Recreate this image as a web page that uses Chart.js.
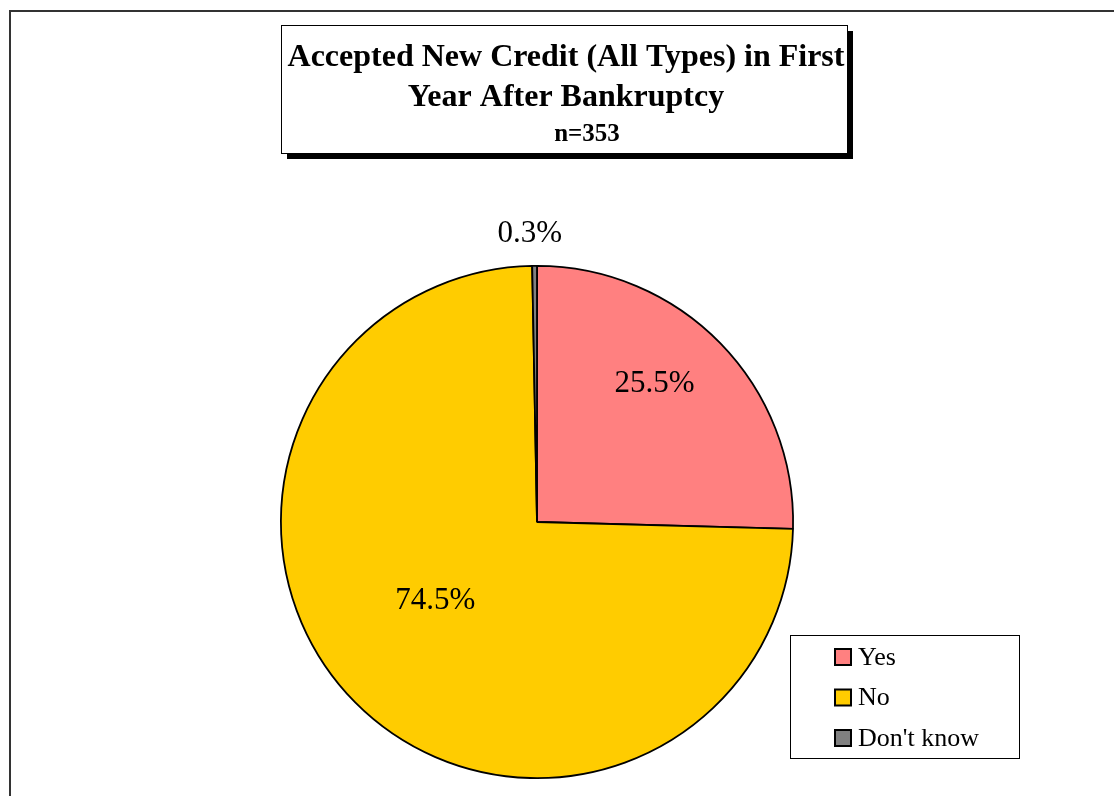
<!DOCTYPE html>
<html>
<head>
<meta charset="utf-8">
<script src="https://cdn.jsdelivr.net/npm/chart.js@4/dist/chart.umd.min.js"></script>
<style>
  html, body { margin: 0; padding: 0; background: #fff; }
  #wrap { width: 1114px; height: 796px; position: relative; }
</style>
</head>
<body>
<div id="wrap"><canvas id="c" width="1114" height="796"></canvas></div>
<script>
// Survey answers and their shares (percent of respondents)
const categories = ['Yes', 'No', "Don't know"];
const shares = [25.5, 74.5, 0.3];
const sliceColors = ['#FF8080', '#FFCC00', '#808080'];
const titleLines = ['Accepted New Credit (All Types) in First', 'Year After Bankruptcy'];
const subtitle = 'n=353';

const SERIF = '"Liberation Serif", "Times New Roman", Times, serif';

// Outer frame and boxed title with drop shadow
const framePlugin = {
  id: 'frame',
  beforeDraw(chart) {
    const ctx = chart.ctx;
    ctx.save();
    ctx.fillStyle = '#fff';
    ctx.fillRect(0, 0, chart.width, chart.height);
    ctx.strokeStyle = '#333';
    ctx.lineWidth = 2;
    ctx.beginPath();
    ctx.moveTo(10, chart.height + 5);
    ctx.lineTo(10, 11);
    ctx.lineTo(chart.width + 5, 11);
    ctx.stroke();
    ctx.restore();
  },
  afterDraw(chart) {
    const ctx = chart.ctx;
    ctx.save();
    const bx = 281, by = 25, bw = 566, bh = 128;
    ctx.fillStyle = '#000';
    ctx.fillRect(bx + 6, by + 6, bw, bh);
    ctx.fillStyle = '#fff';
    ctx.fillRect(bx, by, bw, bh);
    ctx.strokeStyle = '#000';
    ctx.lineWidth = 1;
    ctx.strokeRect(bx + 0.5, by + 0.5, bw, bh);
    ctx.fillStyle = '#000';
    ctx.textAlign = 'center';
    ctx.textBaseline = 'alphabetic';
    ctx.font = 'bold 32px ' + SERIF;
    ctx.fillText(titleLines[0], 566, 66);
    ctx.fillText(titleLines[1], 566, 106);
    ctx.font = 'bold 25px ' + SERIF;
    ctx.fillText(subtitle, 587, 141);
    ctx.restore();
  }
};

// Percentage labels: distance from centre (fraction of radius) and a small angular nudge
const labelRadius = [0.707, 0.502, 1.125];
const labelNudgeDeg = [-5.3, 7, -0.9];
const sliceLabelPlugin = {
  id: 'sliceLabels',
  afterDatasetsDraw(chart) {
    const ctx = chart.ctx;
    const meta = chart.getDatasetMeta(0);
    ctx.save();
    ctx.fillStyle = '#000';
    ctx.font = '31px ' + SERIF;
    ctx.textAlign = 'center';
    ctx.textBaseline = 'middle';
    meta.data.forEach((arc, i) => {
      const p = arc.getProps(['x', 'y', 'startAngle', 'endAngle', 'outerRadius'], true);
      const mid = (p.startAngle + p.endAngle) / 2 + labelNudgeDeg[i] * Math.PI / 180;
      const r = p.outerRadius * labelRadius[i];
      const x = p.x + Math.cos(mid) * r;
      const y = p.y + Math.sin(mid) * r;
      ctx.fillText(shares[i].toFixed(1) + '%', x, y);
    });
    ctx.restore();
  }
};

// Boxed legend at the lower right
const legendBoxPlugin = {
  id: 'legendBox',
  afterDraw(chart) {
    const ctx = chart.ctx;
    ctx.save();
    const lx = 790, ly = 635, lw = 229, lh = 123;
    ctx.fillStyle = '#fff';
    ctx.fillRect(lx, ly, lw, lh);
    ctx.strokeStyle = '#000';
    ctx.lineWidth = 1;
    ctx.strokeRect(lx + 0.5, ly + 0.5, lw, lh);
    ctx.font = '26px ' + SERIF;
    ctx.textAlign = 'left';
    ctx.textBaseline = 'middle';
    categories.forEach((name, i) => {
      const cy = 657 + i * 40.5;
      ctx.fillStyle = sliceColors[i];
      ctx.fillRect(835, cy - 8, 16, 16);
      ctx.strokeStyle = '#000';
      ctx.lineWidth = 2;
      ctx.strokeRect(835, cy - 8, 16, 16);
      ctx.fillStyle = '#000';
      ctx.fillText(name, 858, cy + 1);
    });
    ctx.restore();
  }
};

new Chart(document.getElementById('c'), {
  type: 'pie',
  data: {
    labels: categories,
    datasets: [{
      data: shares,
      backgroundColor: sliceColors,
      borderColor: '#000',
      borderWidth: 1.8,
      hoverOffset: 0
    }]
  },
  options: {
    responsive: false,
    animation: false,
    events: [],
    rotation: 0,
    layout: { padding: { left: 280, right: 320, top: 265, bottom: 17 } },
    plugins: {
      legend: { display: false },
      title: { display: false },
      tooltip: { enabled: false }
    }
  },
  plugins: [framePlugin, sliceLabelPlugin, legendBoxPlugin]
});
</script>
</body>
</html>
